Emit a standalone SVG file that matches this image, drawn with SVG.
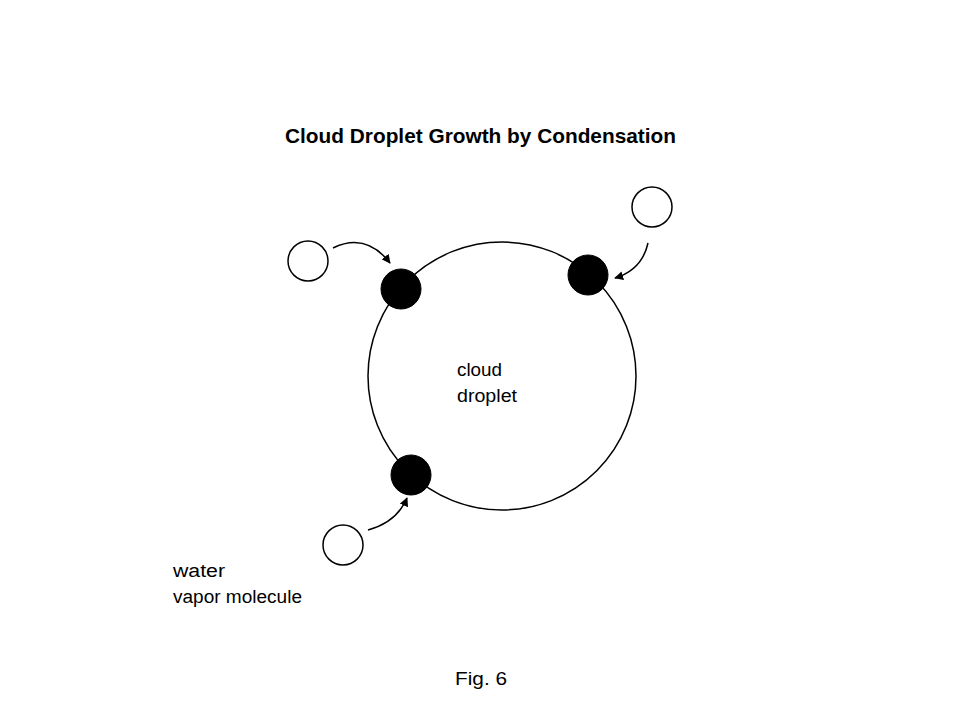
<svg xmlns="http://www.w3.org/2000/svg" width="960" height="720" viewBox="0 0 960 720">
<defs>
<style>
.t{font-family:"Liberation Sans",Arial,sans-serif;fill:#000}
.open{fill:#fff;stroke:#000;stroke-width:1.5}
.mol{fill:#000;stroke:#000;stroke-width:1}
.con{fill:none;stroke:#000;stroke-width:1.5}
</style>
<marker id="ah" viewBox="0 0 10 10" refX="9" refY="5" markerWidth="9" markerHeight="9" markerUnits="userSpaceOnUse" orient="auto">
<path d="M0,0 L10,5 L0,10 z" fill="#000"/>
</marker>
</defs>
<rect width="960" height="720" fill="#fff"/>
<text class="t" x="285" y="143" font-size="21" font-weight="bold" textLength="391" lengthAdjust="spacingAndGlyphs">Cloud Droplet Growth by Condensation</text>
<g id="droplet">
<circle class="open" cx="502" cy="376" r="134"/>
<text class="t" x="457" y="376" font-size="18" textLength="45" lengthAdjust="spacingAndGlyphs">cloud</text>
<text class="t" x="457" y="402" font-size="18" textLength="60" lengthAdjust="spacingAndGlyphs">droplet</text>
</g>
<g id="mol1"><circle class="mol" cx="401" cy="289" r="20"/></g>
<g id="mol2"><circle class="mol" cx="588" cy="275" r="20"/></g>
<g id="mol3"><circle class="mol" cx="411" cy="475" r="20"/></g>
<g id="vap1"><circle class="open" cx="308" cy="261" r="20"/></g>
<g id="vap2"><circle class="open" cx="652" cy="207" r="20"/></g>
<g id="vap3"><circle class="open" cx="343" cy="545" r="20"/></g>
<g id="connectors">
<path class="con" marker-end="url(#ah)" d="M333,248 Q366,232 390,263"/>
<path class="con" marker-end="url(#ah)" d="M648,243 Q642,270 615,278"/>
<path class="con" marker-end="url(#ah)" d="M368,530 Q397,522 407,498"/>
</g>
<g id="label">
<text class="t" x="173" y="577" font-size="18" textLength="52" lengthAdjust="spacingAndGlyphs">water</text>
<text class="t" x="173" y="603" font-size="18" textLength="129" lengthAdjust="spacingAndGlyphs">vapor molecule</text>
</g>
<text class="t" x="455" y="685" font-size="19" textLength="52" lengthAdjust="spacingAndGlyphs">Fig. 6</text>
</svg>
